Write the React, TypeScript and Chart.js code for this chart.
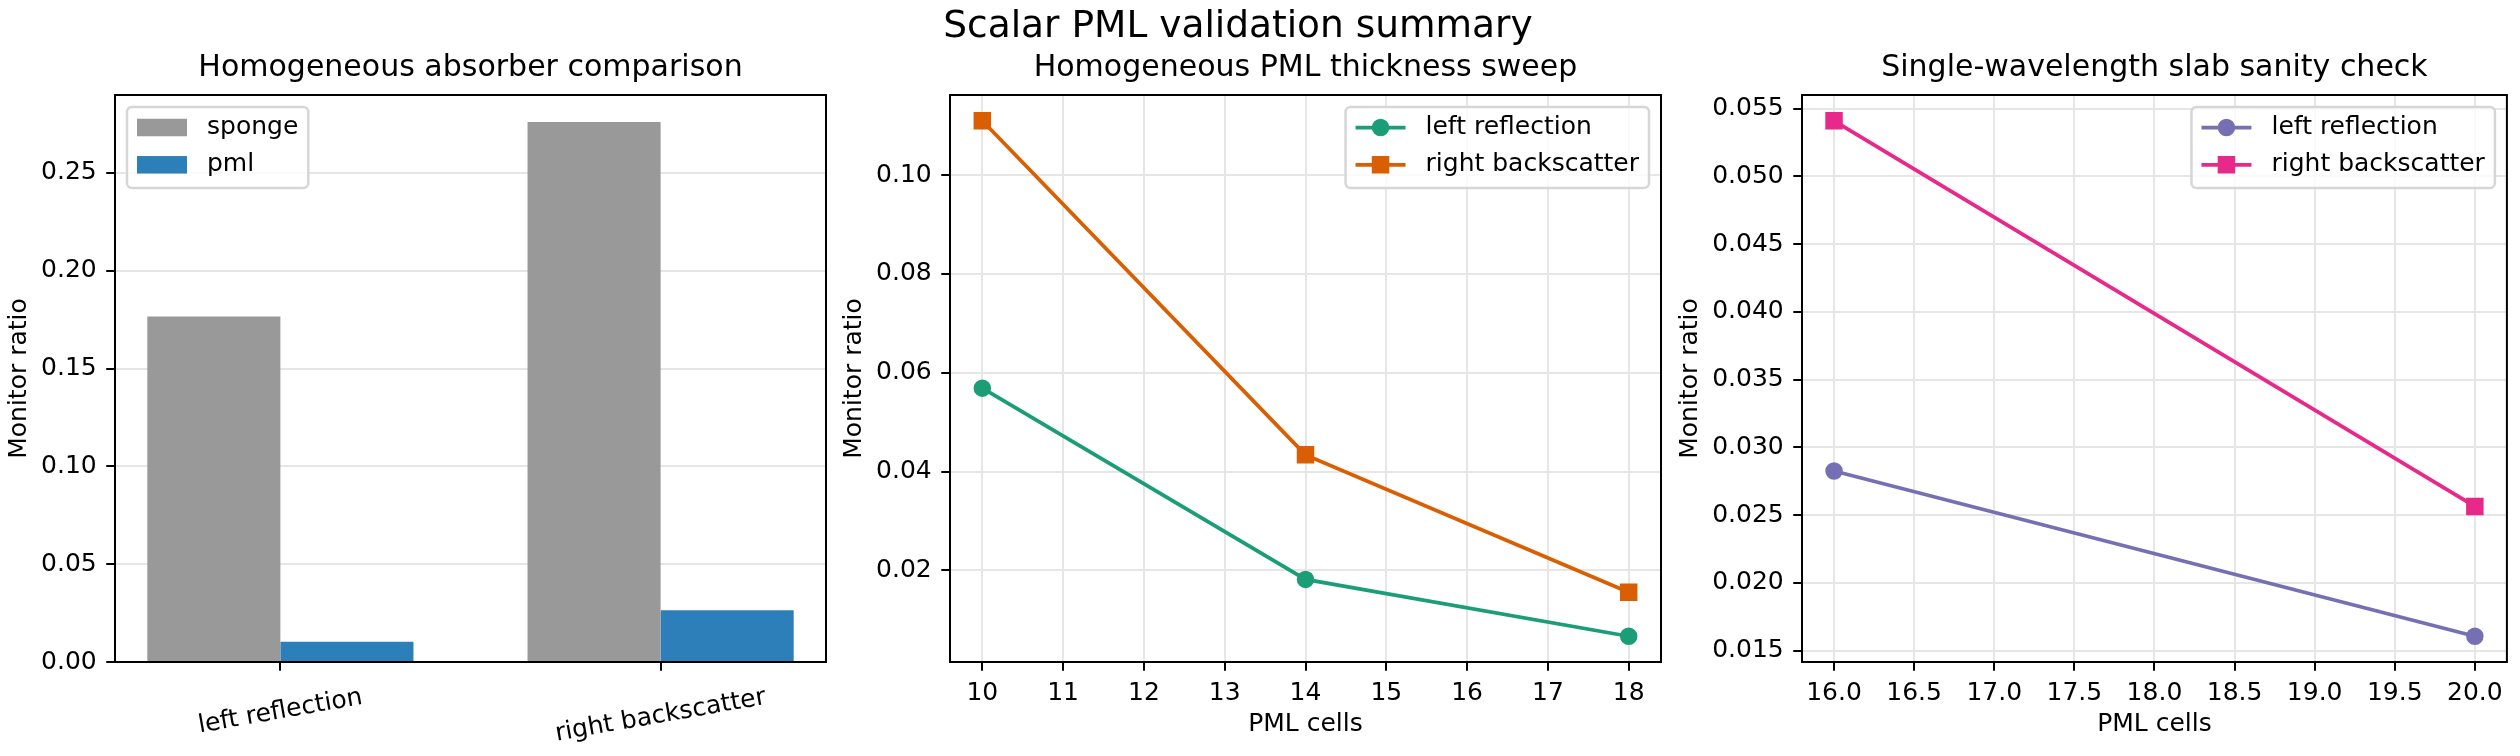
import { useEffect, useRef } from "react";
import { Chart, registerables } from "chart.js";

Chart.register(...registerables);

// ---------- text ----------
const figureTitle = "Scalar PML validation summary";
const panelTitles = [
  "Homogeneous absorber comparison",
  "Homogeneous PML thickness sweep",
  "Single-wavelength slab sanity check",
];
const yAxisTitle = "Monitor ratio";
const xAxisTitle = "PML cells";

// ---------- absorber comparison (bars) ----------
const absorberCategories = ["left reflection", "right backscatter"];
const spongeRatios = [0.1766, 0.276];
const pmlRatios = [0.0104, 0.0264];
const absorberYTicks = [0, 0.05, 0.1, 0.15, 0.2, 0.25];

// ---------- PML thickness sweep ----------
const sweepCells = [10, 14, 18];
const sweepLeftReflection = [0.0569, 0.0182, 0.0067];
const sweepRightBackscatter = [0.111, 0.0434, 0.0156];
const sweepXTicks = [10, 11, 12, 13, 14, 15, 16, 17, 18];
const sweepYTicks = [0.02, 0.04, 0.06, 0.08, 0.1];

// ---------- single-wavelength slab ----------
const slabCells = [16, 20];
const slabLeftReflection = [0.02826, 0.01606];
const slabRightBackscatter = [0.05411, 0.02564];
const slabXTicks = [16, 16.5, 17, 17.5, 18, 18.5, 19, 19.5, 20];
const slabYTicks = [0.015, 0.02, 0.025, 0.03, 0.035, 0.04, 0.045, 0.05, 0.055];

// ---------- styling / layout ----------
const PAGE_W = 2520;
const PAGE_H = 756;
const FONT = "'DejaVu Sans', 'Liberation Sans', sans-serif";
const INK = "#000000";
const GRID = "#e6e6e6";
const TICK_SIZE = 25;
const LABEL_SIZE = 25;
const TITLE_SIZE = 30;
const SUPTITLE_SIZE = 37.5;
const TICK_LEN = 8.75;
const CATEGORY_ROTATION = 10;

const PLOT_TOP = 95;
const PLOT_BOTTOM = 662;
const panelBounds: [number, number][] = [
  [115, 826],
  [950, 1661],
  [1802, 2512],
];
const yTitleCenters = [19, 854, 1690];
const SUPTITLE_X = 1238;
const Y_BOX = 100;
const X_BOX = 60;

Chart.defaults.font.family = FONT;

function paddedRange(values: number[], frac = 0.05): [number, number] {
  const lo = Math.min(...values);
  const hi = Math.max(...values);
  const pad = (hi - lo) * frac;
  return [lo - pad, hi + pad];
}

function linearAxis(
  min: number,
  max: number,
  ticks: number[],
  fmt: (v: number) => string,
  opts: { gridOnArea: boolean; showLabels: boolean; horizontal: boolean }
) {
  return {
    type: "linear",
    min,
    max,
    offset: false,
    grid: {
      display: true,
      drawOnChartArea: opts.gridOnArea,
      color: GRID,
      lineWidth: 2,
      drawTicks: true,
      tickLength: TICK_LEN,
      tickColor: INK,
      tickWidth: 2,
      offset: false,
    },
    border: { display: false },
    ticks: {
      display: opts.showLabels,
      autoSkip: false,
      maxRotation: 0,
      minRotation: 0,
      color: INK,
      padding: opts.horizontal ? 7.75 : 9.5,
      font: { family: FONT, size: TICK_SIZE },
      callback: (v: number | string) => fmt(Number(v)),
    },
    afterBuildTicks: (scale: any) => {
      scale.ticks = ticks.map((value) => ({ value }));
    },
    afterFit: (scale: any) => {
      if (opts.horizontal) scale.height = X_BOX;
      else scale.width = Y_BOX;
      scale.paddingLeft = 0;
      scale.paddingRight = 0;
      scale.paddingTop = 0;
      scale.paddingBottom = 0;
    },
  };
}

function layoutFor(panel: number) {
  const [left, right] = panelBounds[panel];
  return {
    padding: {
      left: left - Y_BOX,
      right: PAGE_W - right,
      top: PLOT_TOP,
      bottom: PAGE_H - PLOT_BOTTOM - X_BOX,
    },
  };
}

function roundRect(ctx: CanvasRenderingContext2D, x: number, y: number, w: number, h: number, r: number) {
  ctx.beginPath();
  ctx.moveTo(x + r, y);
  ctx.lineTo(x + w - r, y);
  ctx.arcTo(x + w, y, x + w, y + r, r);
  ctx.lineTo(x + w, y + h - r);
  ctx.arcTo(x + w, y + h, x + w - r, y + h, r);
  ctx.lineTo(x + r, y + h);
  ctx.arcTo(x, y + h, x, y + h - r, r);
  ctx.lineTo(x, y + r);
  ctx.arcTo(x, y, x + r, y, r);
  ctx.closePath();
}

function drawMarker(ctx: CanvasRenderingContext2D, style: string, x: number, y: number, color: string) {
  ctx.fillStyle = color;
  ctx.strokeStyle = color;
  ctx.lineWidth = 2.5;
  ctx.beginPath();
  if (style === "rect") {
    const s = 7.5;
    ctx.rect(x - s, y - s, 2 * s, 2 * s);
  } else {
    ctx.arc(x, y, 7.5, 0, Math.PI * 2);
  }
  ctx.fill();
  ctx.stroke();
}

function drawLegend(chart: any, side: "left" | "right", kind: "bar" | "line") {
  const ctx: CanvasRenderingContext2D = chart.ctx;
  const area = chart.chartArea;
  const items = chart.data.datasets.map((d: any) => ({
    label: d.label as string,
    color: (kind === "bar" ? d.backgroundColor : d.borderColor) as string,
    pointStyle: (d.pointStyle || "circle") as string,
  }));
  ctx.save();
  ctx.font = `${LABEL_SIZE}px ${FONT}`;
  const textW = Math.max(...items.map((it: any) => ctx.measureText(it.label).width));
  const boxW = 10 + 50 + 20 + textW + 10;
  const boxH = 81;
  const x0 = side === "left" ? area.left + 12 : area.right - 12 - boxW;
  const y0 = area.top + 12;
  roundRect(ctx, x0, y0, boxW, boxH, 5);
  ctx.fillStyle = "rgba(255,255,255,0.8)";
  ctx.fill();
  ctx.strokeStyle = "#d6d6d6";
  ctx.lineWidth = 2.5;
  ctx.stroke();
  items.forEach((it: any, i: number) => {
    const cy = y0 + 20.5 + i * 37.3;
    const hx = x0 + 10;
    if (kind === "bar") {
      ctx.fillStyle = it.color;
      ctx.fillRect(hx, cy - 8.75, 50, 17.5);
    } else {
      ctx.strokeStyle = it.color;
      ctx.lineWidth = 3.75;
      ctx.beginPath();
      ctx.moveTo(hx, cy);
      ctx.lineTo(hx + 50, cy);
      ctx.stroke();
      drawMarker(ctx, it.pointStyle, hx + 25, cy, it.color);
    }
    ctx.fillStyle = INK;
    ctx.textAlign = "left";
    ctx.textBaseline = "middle";
    ctx.fillText(it.label, x0 + 80, cy);
  });
  ctx.restore();
}

function decorPlugin(panel: number, side: "left" | "right", kind: "bar" | "line") {
  return {
    id: `panelDecor${panel}`,
    afterDraw(chart: any) {
      const ctx: CanvasRenderingContext2D = chart.ctx;
      const area = chart.chartArea;
      const cx = (area.left + area.right) / 2;
      ctx.save();

      // axes frame
      ctx.strokeStyle = INK;
      ctx.lineWidth = 2;
      ctx.strokeRect(area.left, area.top, area.right - area.left, area.bottom - area.top);

      ctx.fillStyle = INK;
      // figure title (drawn once, with the first panel)
      if (panel === 0) {
        ctx.font = `${SUPTITLE_SIZE}px ${FONT}`;
        ctx.textAlign = "center";
        ctx.textBaseline = "alphabetic";
        ctx.fillText(figureTitle, SUPTITLE_X, 36.5);
      }

      // panel title
      ctx.font = `${TITLE_SIZE}px ${FONT}`;
      ctx.textAlign = "center";
      ctx.textBaseline = "alphabetic";
      ctx.fillText(panelTitles[panel], cx, 76);

      // y axis title
      ctx.font = `${LABEL_SIZE}px ${FONT}`;
      ctx.save();
      ctx.translate(yTitleCenters[panel], (area.top + area.bottom) / 2);
      ctx.rotate(-Math.PI / 2);
      ctx.textAlign = "center";
      ctx.textBaseline = "middle";
      ctx.fillText(yAxisTitle, 0, 0);
      ctx.restore();

      if (kind === "line") {
        ctx.textAlign = "center";
        ctx.textBaseline = "middle";
        ctx.fillText(xAxisTitle, cx, 724);
      } else {
        // slanted category labels under the bar groups
        const xScale = chart.scales.x;
        const rad = (CATEGORY_ROTATION * Math.PI) / 180;
        ctx.font = `${TICK_SIZE}px ${FONT}`;
        absorberCategories.forEach((label, i) => {
          const x = xScale.getPixelForValue(i);
          const w = ctx.measureText(label).width;
          const h = TICK_SIZE * 1.164;
          const boxH = w * Math.sin(rad) + h * Math.cos(rad);
          const cy = area.bottom + 21 + boxH / 2;
          ctx.save();
          ctx.translate(x, cy);
          ctx.rotate(-rad);
          ctx.textAlign = "center";
          ctx.textBaseline = "middle";
          ctx.fillText(label, 0, 0);
          ctx.restore();
        });
      }
      ctx.restore();

      drawLegend(chart, side, kind);
    },
  };
}

const baseOptions = {
  responsive: false,
  maintainAspectRatio: false,
  animation: false,
  devicePixelRatio: 1,
  events: [],
  plugins: {
    legend: { display: false },
    title: { display: false },
    tooltip: { enabled: false },
  },
};

function buildAbsorber(canvas: HTMLCanvasElement) {
  // bars span ±0.35 around each category; 5% margin like the usual autoscale
  const [xMin, xMax] = paddedRange([-0.35, absorberCategories.length - 1 + 0.35]);
  const yMax = Math.max(...spongeRatios, ...pmlRatios) * 1.05;
  return new Chart(canvas, {
    type: "bar",
    data: {
      datasets: [
        {
          label: "sponge",
          data: absorberCategories.map((_, i) => ({ x: i, y: spongeRatios[i] })),
          backgroundColor: "#999999",
          borderWidth: 0,
          categoryPercentage: 0.7,
          barPercentage: 1,
        },
        {
          label: "pml",
          data: absorberCategories.map((_, i) => ({ x: i, y: pmlRatios[i] })),
          backgroundColor: "#2c7fb8",
          borderWidth: 0,
          categoryPercentage: 0.7,
          barPercentage: 1,
        },
      ],
    },
    options: {
      ...baseOptions,
      layout: layoutFor(0),
      scales: {
        x: linearAxis(xMin, xMax, absorberCategories.map((_, i) => i), () => "", {
          gridOnArea: false,
          showLabels: false,
          horizontal: true,
        }),
        y: linearAxis(0, yMax, absorberYTicks, (v) => v.toFixed(2), {
          gridOnArea: true,
          showLabels: true,
          horizontal: false,
        }),
      },
    } as any,
    plugins: [decorPlugin(0, "left", "bar")],
  } as any);
}

function lineDataset(label: string, xs: number[], ys: number[], color: string, pointStyle: string) {
  return {
    label,
    data: xs.map((x, i) => ({ x, y: ys[i] })),
    borderColor: color,
    backgroundColor: color,
    borderWidth: 3.75,
    pointStyle,
    pointRadius: pointStyle === "rect" ? 10.6 : 7.5,
    pointBorderWidth: 2.5,
    pointBackgroundColor: color,
    pointBorderColor: color,
    tension: 0,
    fill: false,
    clip: false,
  };
}

function buildLinePanel(
  canvas: HTMLCanvasElement,
  panel: number,
  cells: number[],
  left: number[],
  right: number[],
  xTicks: number[],
  yTicks: number[],
  xFmt: (v: number) => string,
  yFmt: (v: number) => string,
  leftColor: string,
  rightColor: string
) {
  const [xMin, xMax] = paddedRange(cells);
  const [yMin, yMax] = paddedRange([...left, ...right]);
  return new Chart(canvas, {
    type: "line",
    data: {
      datasets: [
        lineDataset("left reflection", cells, left, leftColor, "circle"),
        lineDataset("right backscatter", cells, right, rightColor, "rect"),
      ],
    },
    options: {
      ...baseOptions,
      layout: layoutFor(panel),
      scales: {
        x: linearAxis(xMin, xMax, xTicks, xFmt, { gridOnArea: true, showLabels: true, horizontal: true }),
        y: linearAxis(yMin, yMax, yTicks, yFmt, { gridOnArea: true, showLabels: true, horizontal: false }),
      },
    } as any,
    plugins: [decorPlugin(panel, "right", "line")],
  } as any);
}

export default function App() {
  const r0 = useRef<HTMLCanvasElement>(null);
  const r1 = useRef<HTMLCanvasElement>(null);
  const r2 = useRef<HTMLCanvasElement>(null);

  useEffect(() => {
    const charts = [
      buildAbsorber(r0.current!),
      buildLinePanel(
        r1.current!, 1, sweepCells, sweepLeftReflection, sweepRightBackscatter,
        sweepXTicks, sweepYTicks, (v) => String(Math.round(v)), (v) => v.toFixed(2),
        "#1b9e77", "#d95f02"
      ),
      buildLinePanel(
        r2.current!, 2, slabCells, slabLeftReflection, slabRightBackscatter,
        slabXTicks, slabYTicks, (v) => v.toFixed(1), (v) => v.toFixed(3),
        "#7570b3", "#e7298a"
      ),
    ];
    return () => charts.forEach((c) => c.destroy());
  }, []);

  const canvasStyle: React.CSSProperties = {
    position: "absolute",
    left: 0,
    top: 0,
    width: PAGE_W,
    height: PAGE_H,
  };

  return (
    <div style={{ position: "absolute", left: 0, top: 0, width: PAGE_W, height: PAGE_H, background: "#ffffff" }}>
      <canvas ref={r0} width={PAGE_W} height={PAGE_H} style={canvasStyle} />
      <canvas ref={r1} width={PAGE_W} height={PAGE_H} style={canvasStyle} />
      <canvas ref={r2} width={PAGE_W} height={PAGE_H} style={canvasStyle} />
    </div>
  );
}
